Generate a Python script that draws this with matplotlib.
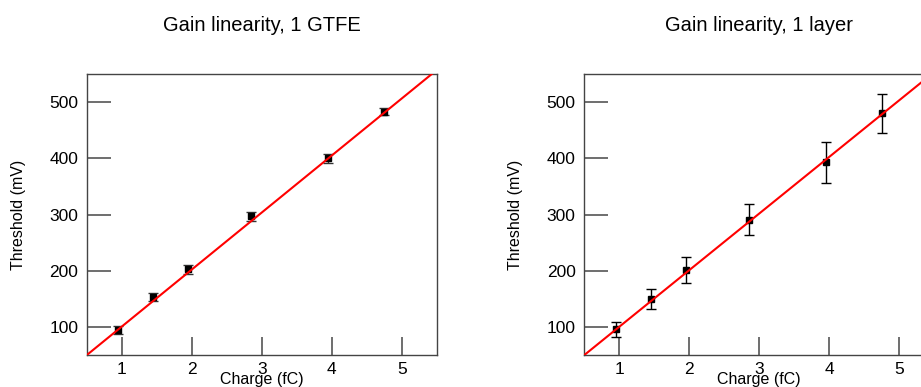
import matplotlib
matplotlib.use("Agg")
import matplotlib.pyplot as plt
import numpy as np

plt.rcParams['font.family'] = ['Liberation Sans', 'DejaVu Sans']

# Measured thresholds vs injected charge
charge = [0.95, 1.45, 1.95, 2.85, 3.95, 4.75]

gtfe_threshold = [95, 153, 203, 297, 400, 483]
gtfe_error = [7, 7, 8, 8, 8, 6]
gtfe_fit = (101.5, -0.75)   # slope (mV/fC), intercept (mV)

layer_threshold = [96, 150, 201, 291, 393, 480]
layer_error = [13, 18, 23, 28, 36, 34]
layer_fit = (100.8, -0.4)

titles = ["Gain linearity, 1 GTFE", "Gain linearity, 1 layer"]
x_label = "Charge (fC)"
y_label = "Threshold (mV)"

W, H = 921, 387
fig = plt.figure(figsize=(W / 100, H / 100), dpi=100)

def px_axes(x0, x1, y0, y1):
    return fig.add_axes([x0 / W, 1 - y1 / H, (x1 - x0) / W, (y1 - y0) / H])

ax_left = px_axes(86.5, 437, 74, 355.3)
ax_right = px_axes(584, 934.5, 74, 355.3)

panels = [
    (ax_left, gtfe_threshold, gtfe_error, gtfe_fit, titles[0], "#333333"),
    (ax_right, layer_threshold, layer_error, layer_fit, titles[1], "black"),
]

for ax, thr, err, fit, title, ecol in panels:
    ax.set_xlim(0.5, 5.5)
    ax.set_ylim(50, 550)
    xs = np.array(ax.get_xlim())
    ax.plot(xs, fit[0] * xs + fit[1], color="red", lw=1.5, zorder=3)
    ax.errorbar(charge, thr, yerr=err, fmt="s", ms=4, color="black",
                ecolor=ecol, elinewidth=1.0, capsize=3.5, capthick=1.0, zorder=2)
    ax.set_xticks([1, 2, 3, 4, 5])
    ax.set_yticks([100, 200, 300, 400, 500])
    ax.tick_params(axis="x", direction="in", length=13, width=1.2, color="#555555",
                   labelsize=12.5, pad=5)
    ax.tick_params(axis="y", direction="in", length=17, width=1.2, color="#555555",
                   labelsize=12.5, pad=6)
    for s in ax.spines.values():
        s.set_color("#444444")
        s.set_linewidth(1.0)
    ax.set_xlabel(x_label, fontsize=11.5, labelpad=-4)
    ax.set_ylabel(y_label, fontsize=11.5, labelpad=17)
    ax.set_title(title, fontsize=14.5, pad=31)

fig.savefig("out.png", dpi=100)
